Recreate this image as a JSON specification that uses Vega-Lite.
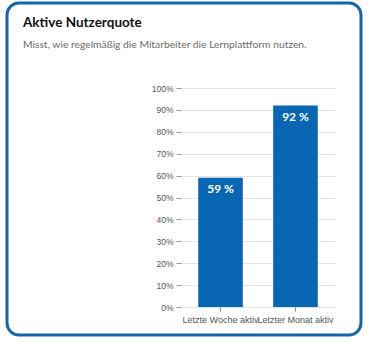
{
  "$schema": "https://vega.github.io/schema/vega-lite/v6.json",
  "width": 354,
  "height": 332,
  "autosize": {"type": "none"},
  "padding": {"left": 7, "top": 3, "right": 14, "bottom": 22},
  "background": "#ffffff",
  "title": {
    "text": "Aktive Nutzerquote",
    "subtitle": "Misst, wie regelmäßig die Mitarbeiter die Lernplattform nutzen.",
    "anchor": "start",
    "frame": "group",
    "dx": 16,
    "offset": -47,
    "font": "Lato",
    "fontSize": 13.5,
    "fontWeight": "bold",
    "color": "#111111",
    "subtitleFont": "Lato",
    "subtitleFontSize": 10.3,
    "subtitleColor": "#6b6b6b",
    "subtitlePadding": 10
  },
  "data": {
    "values": [
      {"category": "Letzte Woche aktiv", "value": 0.59, "label": "59 %"},
      {"category": "Letzter Monat aktiv", "value": 0.92, "label": "92 %"}
    ]
  },
  "encoding": {
    "x": {
      "field": "category",
      "type": "nominal",
      "sort": null,
      "scale": {"range": [174, 328], "paddingInner": 0.405, "paddingOuter": 0.23},
      "axis": {
        "title": null,
        "orient": "bottom",
        "offset": -28,
        "labelAngle": 0,
        "labelOverlap": false,
        "labelLimit": 0,
        "labelFont": "Liberation Sans",
        "labelFontSize": 9,
        "labelColor": "#555555",
        "labelPadding": 4,
        "domain": false,
        "ticks": true,
        "tickColor": "#888888",
        "tickSize": 4,
        "grid": false
      }
    },
    "y": {
      "field": "value",
      "type": "quantitative",
      "scale": {"domain": [0, 1], "range": [304, 85], "nice": false},
      "axis": {
        "title": null,
        "offset": -174,
        "values": [0, 0.1, 0.2, 0.3, 0.4, 0.5, 0.6, 0.7, 0.8, 0.9, 1],
        "format": ".0%",
        "labelFont": "Liberation Sans",
        "labelFontSize": 8.5,
        "labelColor": "#555555",
        "labelPadding": 3,
        "domain": false,
        "tickColor": "#999999",
        "tickSize": 5,
        "grid": true,
        "gridColor": "#e3e3e3",
        "gridWidth": 1
      }
    }
  },
  "layer": [
    {
      "mark": {"type": "bar", "color": "#0866b3"}
    },
    {
      "mark": {
        "type": "text",
        "color": "#ffffff",
        "font": "Lato",
        "fontSize": 12,
        "fontWeight": "bold",
        "baseline": "middle",
        "dy": 11
      },
      "encoding": {"text": {"field": "label"}}
    }
  ],
  "config": {
    "view": {
      "stroke": "#1565ad",
      "strokeWidth": 3,
      "cornerRadius": 12
    }
  }
}
